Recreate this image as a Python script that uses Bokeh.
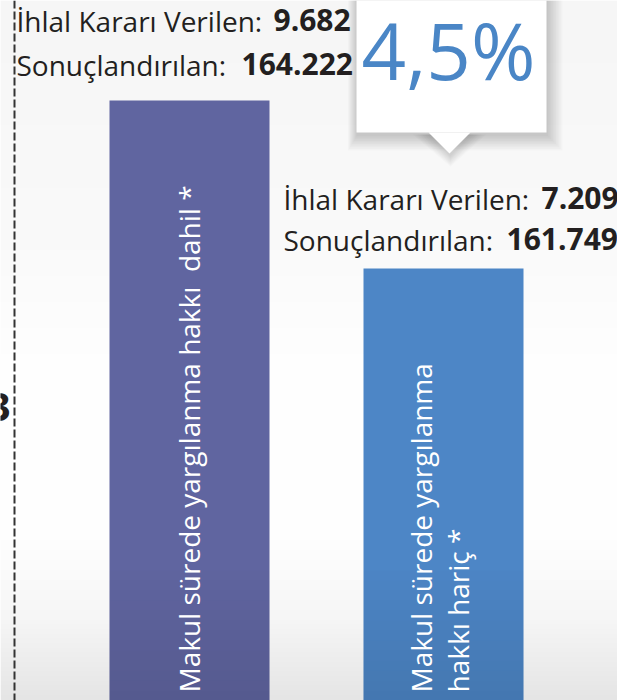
import numpy as np
from bokeh.plotting import figure
from bokeh.models import Range1d, Label, Span
from bokeh.embed import file_html
from bokeh.resources import INLINE

# ---- data ----
bar_texts = [["Makul sürede yargılanma hakkı\u00a0\u00a0dahil *"],
             ["Makul sürede yargılanma", "hakkı hariç *"]]
ihlal = [9682, 7209]            # İhlal Kararı Verilen
sonuc = [164222, 161749]        # Sonuçlandırılan
bar_colors = ["#6065a0", "#4d86c6"]
ihlal_lbl = ["9.682", "7.209"]
sonuc_lbl = ["164.222", "161.749"]

rates = [i / s * 100 for i, s in zip(ihlal, sonuc)]
pct_text = f"{rates[1]:.1f}%".replace(".", ",")

# ---- layout (reference pixels -> data) ----
W, H = 617, 700
PXX = 254.0      # px per category step
X0 = 189.0       # x of first bar centre
PXY = 116.77     # px per percent
BASE = 788.4     # y of 0 % (below the visible area)

def dx(rx):
    return (rx - X0) / PXX

def dy(ry):
    return (BASE - ry) / PXY

p = figure(width=W, height=H, output_backend="svg", toolbar_location=None,
           x_range=Range1d(dx(0), dx(W)), y_range=Range1d(dy(H), dy(0)),
           min_border=0)
p.axis.visible = False
p.grid.visible = False
p.outline_line_color = None
p.background_fill_color = "#ffffff"
p.border_fill_color = "#ffffff"

# background gradient
ys = np.arange(H, 0, -1)  # bottom to top rows
g = np.interp(ys, [0, 250, 380, 540, 620, 700], [246, 250, 255, 254, 246, 229]).astype(np.uint32)
img = (np.uint32(255) << 24) | (g << 16) | (g << 8) | g
img = img.reshape(-1, 1).astype(np.uint32)
p.image_rgba(image=[img], x=dx(0), y=dy(H), dw=dx(W) - dx(0), dh=dy(0) - dy(H))

# dashed separator
p.add_layout(Span(location=dx(14), dimension="height", line_color="#333333",
                  line_width=2, line_dash="8 3"))

# bars
xs = [0, 1]
bw = 160 / PXX
p.vbar(x=xs, top=rates, bottom=0, width=bw, color=bar_colors, line_color=None)
# subtle darkening at the bottom of bars
n = 14
for k in range(n):
    y0 = 560 + k * 10
    p.vbar(x=xs, top=dy(y0), bottom=dy(y0 + 10), width=bw, color="#000000",
           line_color=None, fill_alpha=0.008 * k)

FONT = "Open Sans"
FS = "28px"
FSB = "30px"
OFF = 10   # baseline correction for 28px

def two_part(x_left, x_bold, base, normal, bold):
    y = dy(base - OFF)
    p.add_layout(Label(x=x_left, y=y, text=normal, text_font=FONT, text_font_size=FS,
                       text_color="#231f20", text_baseline="alphabetic", text_align="left"))
    p.add_layout(Label(x=x_bold, y=dy(base - OFF - 1), text=bold, text_font=FONT, text_font_size=FSB,
                       text_font_style="bold", text_color="#231f20",
                       text_baseline="alphabetic", text_align="left"))

# left bar labels
two_part(dx(16), dx(273), 30, "İhlal Kararı Verilen:", ihlal_lbl[0])
two_part(dx(16), dx(241), 74, "Sonuçlandırılan:", sonuc_lbl[0])
# right bar labels
two_part(dx(283), dx(541), 208, "İhlal Kararı Verilen:", ihlal_lbl[1])
two_part(dx(283), dx(506), 249, "Sonuçlandırılan:", sonuc_lbl[1])

# clipped number from neighbouring panel
p.add_layout(Label(x=dx(10), y=dy(406), text="3", text_font=FONT, text_font_size="40px",
                   text_font_style="bold", text_color="#231f20", text_align="right",
                   text_baseline="alphabetic"))

# callout box with soft shadow
L, R, T, B = 356, 546, -20, 132
tri = [(428, 132), (470, 132), (449, 153)]
for k in range(10, 0, -1):
    e = k * 1.6
    p.quad(left=dx(L - e * 0.6 + 1), right=dx(R + e), top=dy(T), bottom=dy(B + e + 2),
           fill_color="#000000", fill_alpha=0.018, line_color=None)
    p.patch([dx(tri[0][0] - e), dx(tri[1][0] + e), dx(tri[2][0] + 1)],
            [dy(tri[0][1] + 2), dy(tri[1][1] + 2), dy(tri[2][1] + e * 0.7 + 2)],
            fill_color="#000000", fill_alpha=0.014, line_color=None)
p.quad(left=dx(L), right=dx(R), top=dy(T), bottom=dy(B), fill_color="#ffffff", line_color=None)
p.patch([dx(t[0]) for t in tri], [dy(t[1]) for t in tri], fill_color="#ffffff", line_color=None)
p.add_layout(Label(x=dx(448), y=dy(82 - 33), text=pct_text, text_font=FONT, text_font_size="78px",
                   text_color="#4a86c6", text_align="center", text_baseline="alphabetic"))

# vertical texts inside bars
bar_line_x = [[188], [420, 457]]
for i, lines in enumerate(bar_texts):
    for t, lx in zip(lines, bar_line_x[i]):
        p.add_layout(Label(x=dx(lx), y=dy(692), text=t,
                           text_font=FONT, text_font_size="28px", text_color="#ffffff",
                           angle=np.pi / 2, text_align="left", text_baseline="middle"))

open("out.html", "w").write(file_html(p, INLINE))
